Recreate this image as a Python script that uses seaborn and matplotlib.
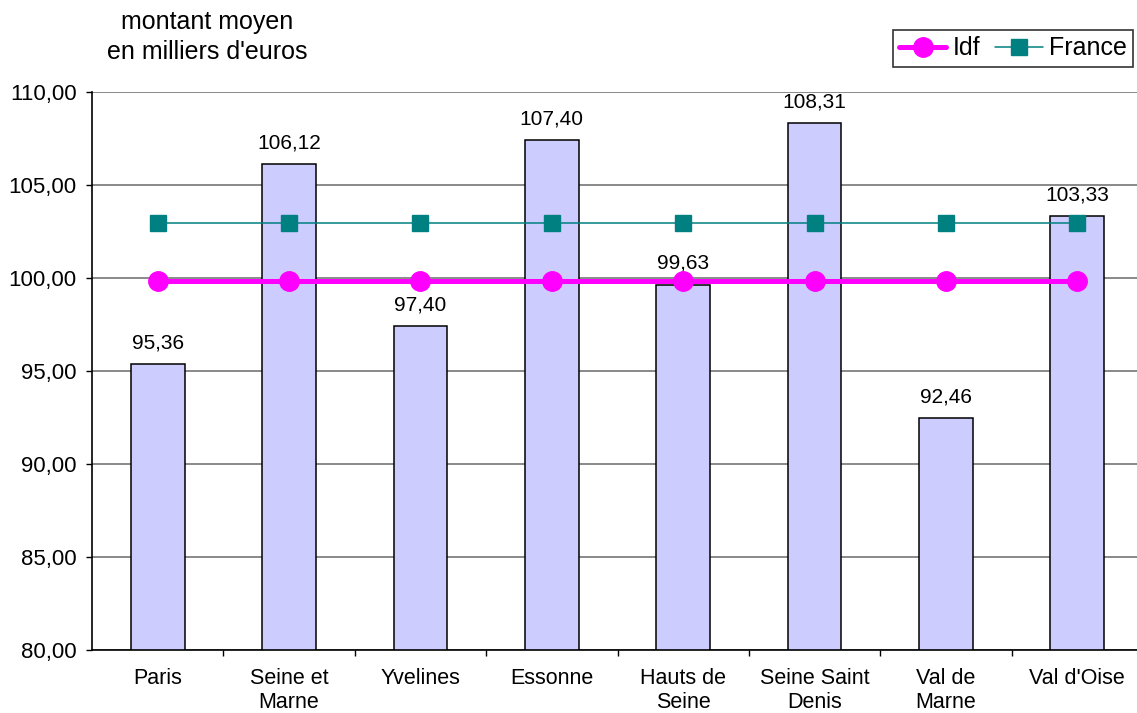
import matplotlib
matplotlib.use('Agg')
import matplotlib.pyplot as plt
import seaborn as sns
import pandas as pd

# data
departements = ['Paris', 'Seine et\nMarne', 'Yvelines', 'Essonne', 'Hauts de\nSeine',
                'Seine Saint\nDenis', 'Val de\nMarne', "Val d'Oise"]
montants = [95.36, 106.12, 97.40, 107.40, 99.63, 108.31, 92.46, 103.33]
idf = [99.82] * 8
france = [102.98] * 8

sns.set_style('white')
plt.rcParams['font.family'] = ['Liberation Sans', 'DejaVu Sans']
plt.rcParams['text.color'] = 'black'
plt.rcParams['xtick.color'] = 'black'
plt.rcParams['ytick.color'] = 'black'

df = pd.DataFrame({'dep': departements, 'montant': montants, 'idf': idf, 'france': france})

fig = plt.figure(figsize=(11.37, 7.13), dpi=100)
ax = fig.add_axes([92 / 1137, 1 - 650 / 713, (1143 - 92) / 1137, (650 - 92) / 713])

# horizontal grid
for v in range(80, 111, 5):
    ax.axhline(v, color='#808080', lw=1.3, zorder=0)

sns.barplot(data=df, x='dep', y='montant', color='#CCCCFF', edgecolor='black',
            linewidth=1.1, width=0.41, saturation=1, ax=ax, zorder=2)
for i, v in enumerate(montants):
    ax.text(i, v + 1.15, f'{v:.2f}'.replace('.', ','), ha='center', va='center', fontsize=15)

ax.plot(df['dep'], df['idf'], color='#FF00FF', lw=3.6, marker='o', markersize=14,
        label='Idf', zorder=4)
ax.plot(df['dep'], df['france'], color='#008080', lw=1.1, marker='s', markersize=12,
        label='France', zorder=3)

ax.set_ylim(80, 110)
ax.set_xlim(-0.5, 7.5)
ax.set_yticks(range(80, 111, 5))
ax.set_yticklabels([f'{v:.2f}'.replace('.', ',') for v in range(80, 111, 5)], fontsize=16)
ax.tick_params(axis='y', direction='out', length=4.5, width=1, left=True, pad=6.5)
ax.tick_params(axis='x', which='major', length=0, labelsize=15.5, pad=13)
ax.set_xticks([i + 0.5 for i in range(8)], minor=True)
ax.tick_params(axis='x', which='minor', direction='out', length=4.5, width=1, bottom=True)
ax.set_xlabel('')
ax.set_ylabel('')
for s in ['top', 'right']:
    ax.spines[s].set_visible(False)
for s in ['left', 'bottom']:
    ax.spines[s].set_color('black')
    ax.spines[s].set_linewidth(1.2)

fig.text(207 / 1137, 1 - 37 / 713, "montant moyen\nen milliers d'euros", ha='center', va='center',
         fontsize=18, linespacing=1.32)

leg = fig.legend(loc='upper right', bbox_to_anchor=(1133 / 1137, 1 - 30 / 713), ncol=2,
                 fontsize=18, frameon=True, fancybox=False, edgecolor='black',
                 handlelength=1.9, columnspacing=0.6, handletextpad=0.25, borderpad=0.25,
                 borderaxespad=0)
leg.get_frame().set_linewidth(1.2)

fig.savefig('out.png', dpi=100)
